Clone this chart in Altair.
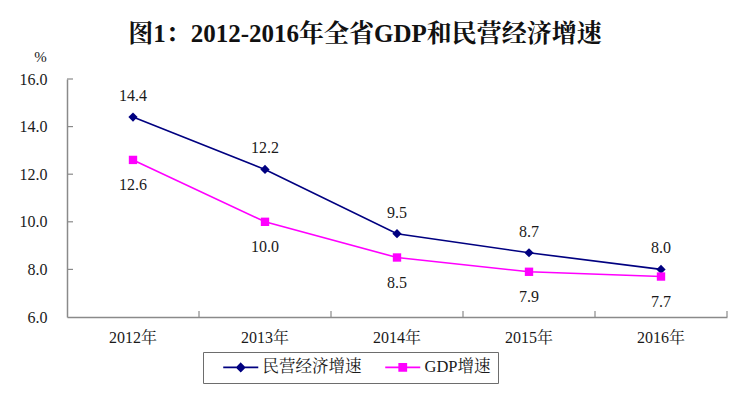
import altair as alt
import pandas as pd

years = ["2012年", "2013年", "2014年", "2015年", "2016年"]
private_growth = [14.4, 12.2, 9.5, 8.7, 8.0]
gdp_growth = [12.6, 10.0, 8.5, 7.9, 7.7]
series_names = ["民营经济增速", "GDP增速"]
series_colors = ["#000080", "#FF00FF"]
y_ticks = [8, 10, 12, 14, 16]
title_text = "图1：2012-2016年全省GDP和民营经济增速"

FONT = "Liberation Serif, Noto Serif CJK SC, Noto Sans CJK SC"
AXIS_GREY = "#8a8a8a"

rows = []
for y, a, b in zip(years, private_growth, gdp_growth):
    rows.append({"year": y, "series": series_names[0], "value": a})
    rows.append({"year": y, "series": series_names[1], "value": b})
df = pd.DataFrame(rows)

xscale = alt.Scale(type="band", domain=years, paddingInner=0, paddingOuter=0)
yscale = alt.Scale(domain=[6, 16], nice=False)
cscale = alt.Scale(domain=series_names, range=series_colors)

x_enc = alt.X("year:N", scale=xscale, bandPosition=0.5, sort=years,
              axis=alt.Axis(title=None, labelAngle=0, ticks=False, tickSize=0,
                            labelPadding=12, labelFont=FONT, labelFontSize=16,
                            labelColor="#1a1a1a", domainColor=AXIS_GREY,
                            domainWidth=1.5, grid=False))
y_enc = alt.Y("value:Q", scale=yscale,
              axis=alt.Axis(title="%", titleAngle=0, titleX=-27, titleY=-23,
                            titleAlign="center", titleBaseline="middle",
                            titleFont=FONT, titleFontSize=15, titleFontWeight="normal",
                            titleColor="#1a1a1a",
                            values=[6, 8, 10, 12, 14, 16], format=".1f",
                            ticks=False, tickSize=0, labelPadding=20,
                            labelFont=FONT, labelFontSize=16, labelColor="#1a1a1a",
                            domainColor=AXIS_GREY, domainWidth=1.5, grid=False))

base = alt.Chart(df)

lines = base.mark_line(strokeWidth=1.6).encode(
    x=x_enc, y=y_enc,
    color=alt.Color("series:N", scale=cscale, legend=None),
    detail="series:N",
)

points = base.mark_point(filled=True, opacity=1).encode(
    x=alt.X("year:N", scale=xscale, bandPosition=0.5, sort=years),
    y=alt.Y("value:Q", scale=yscale),
    color=alt.Color("series:N", scale=cscale, legend=None),
    shape=alt.Shape("series:N", scale=alt.Scale(domain=series_names, range=["diamond", "square"]), legend=None),
    size=alt.Size("series:N", scale=alt.Scale(domain=series_names, range=[85, 70]), legend=None),
)

labels_top = base.transform_filter(alt.datum.series == series_names[0]).mark_text(
    dy=-21, font=FONT, fontSize=16, color="#1a1a1a", baseline="middle"
).encode(
    x=alt.X("year:N", scale=xscale, bandPosition=0.5, sort=years),
    y=alt.Y("value:Q", scale=yscale),
    text=alt.Text("value:Q", format=".1f"),
)

labels_bottom = base.transform_filter(alt.datum.series == series_names[1]).mark_text(
    dy=25, font=FONT, fontSize=16, color="#1a1a1a", baseline="middle"
).encode(
    x=alt.X("year:N", scale=xscale, bandPosition=0.5, sort=years),
    y=alt.Y("value:Q", scale=yscale),
    text=alt.Text("value:Q", format=".1f"),
)

# inward tick marks
ytick_df = pd.DataFrame({"value": y_ticks})
yticks = alt.Chart(ytick_df).mark_rule(color=AXIS_GREY, strokeWidth=1.2).encode(
    y=alt.Y("value:Q", scale=yscale), x=alt.value(0), x2=alt.value(6)
)
xtick_df = pd.DataFrame({"year": years[1:]})
xticks = alt.Chart(xtick_df).mark_rule(color=AXIS_GREY, strokeWidth=1.2).encode(
    x=alt.X("year:N", scale=xscale, bandPosition=0, sort=years),
    y=alt.value(238), y2=alt.value(232),
)
xtick_end = alt.Chart(pd.DataFrame({"year": [years[-1]]})).mark_rule(color=AXIS_GREY, strokeWidth=1.2).encode(
    x=alt.X("year:N", scale=xscale, bandPosition=1, sort=years),
    y=alt.value(238), y2=alt.value(232),
)

# legend-only layer: symbol = short line with a (stroke-filled) marker
line_diamond = ("M0.83,0L6.67,0"
                "M3.75,-0.65L4.4,0L3.75,0.65L3.1,0Z"
                "M3.3,-0.25L4.2,-0.25M3.3,0.25L4.2,0.25"
                "M3.5,-0.45L4.0,-0.45M3.5,0.45L4.0,0.45")
line_square = ("M0.83,0L6.67,0"
               "M3.15,-0.6L4.35,-0.6L4.35,0.6L3.15,0.6Z"
               "M3.15,-0.4L4.35,-0.4M3.15,-0.2L4.35,-0.2"
               "M3.15,0.2L4.35,0.2M3.15,0.4L4.35,0.4")
color_sig = "datum.value === '" + series_names[0] + "' ? '" + series_colors[0] + "' : '" + series_colors[1] + "'"
leg = alt.Legend(title=None, orient="none", legendX=136, legendY=273,
                 direction="horizontal", strokeColor="#6d6d6d", fillColor="white",
                 padding=7, labelFont=FONT, labelFontSize=16.5, labelColor="#1a1a1a",
                 symbolSize=144, symbolStrokeWidth=1.6, columnPadding=10,
                 labelOffset=36, symbolOpacity=1,
                 symbolFillColor=alt.ExprRef(expr=color_sig),
                 symbolStrokeColor=alt.ExprRef(expr=color_sig))
legend_layer = base.transform_filter("false").mark_point(filled=False).encode(
    x=alt.X("year:N", scale=xscale, sort=years),
    y=alt.Y("value:Q", scale=yscale),
    shape=alt.Shape("series:N", scale=alt.Scale(domain=series_names, range=[line_diamond, line_square]), legend=leg),
)

chart = alt.layer(
    lines, points, labels_top, labels_bottom, yticks, xticks, xtick_end, legend_layer
).resolve_scale(shape="independent").properties(
    width=660, height=238,
    title=alt.Title(title_text, font=FONT, fontSize=25, fontWeight="bold",
                    color="#111111", anchor="middle", dx=-32, offset=2),
    autosize=alt.AutoSizeParams(type="none"),
    padding={"left": 59, "top": 71, "right": 4, "bottom": 70},
).configure_view(stroke=None)

chart.save("out.html", embed_options={"renderer": "svg", "actions": False})
